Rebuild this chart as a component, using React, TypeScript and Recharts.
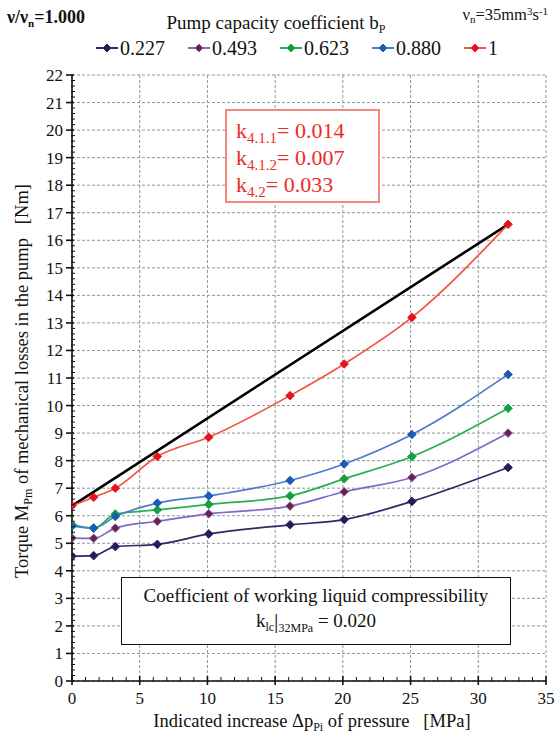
import React from 'react';
import { LineChart, Line, XAxis, YAxis, CartesianGrid, Legend } from 'recharts';

// ---- data ----
const pressure = [0, 1.6, 3.2, 6.3, 10.1, 16.1, 20.1, 25.1, 32.2];
const bp0227 = [4.53, 4.55, 4.88, 4.96, 5.34, 5.67, 5.86, 6.52, 7.75];
const bp0493 = [5.19, 5.18, 5.55, 5.8, 6.07, 6.35, 6.87, 7.39, 9.0];
const bp0623 = [5.68, 5.55, 6.06, 6.21, 6.41, 6.72, 7.34, 8.15, 9.9];
const bp0880 = [5.62, 5.55, 5.97, 6.46, 6.72, 7.28, 7.88, 8.95, 11.13];
const bp1 = [6.36, 6.67, 7.0, 8.15, 8.85, 10.36, 11.51, 13.2, 16.58];
const envelopePressure = [0, 32.2];
const envelopeTorque = [6.36, 16.58];

const seriesNames = ['0.227', '0.493', '0.623', '0.880', '1'];
const seriesKeys = ['b0227', 'b0493', 'b0623', 'b0880', 'b1'];
const seriesValues = [bp0227, bp0493, bp0623, bp0880, bp1];
const lineColors = ['#2E2868', '#8466C8', '#2DAE4E', '#4B7CC8', '#F2553F'];
const dotFills = ['#2A1A5C', '#6A2440', '#12A03E', '#1C5CB4', '#E8121C'];
const dotStrokes = ['#2A1A5C', '#7C5AC0', '#12A03E', '#1C5CB4', '#E8121C'];

const xMajor = [0, 5, 10, 15, 20, 25, 30, 35];
const yMajor = [0, 1, 2, 3, 4, 5, 6, 7, 8, 9, 10, 11, 12, 13, 14, 15, 16, 17, 18, 19, 20, 21, 22];
const xMinorStep = 1;
const yMinorStep = 0.2;
const X_MAX = 35;
const Y_MAX = 22;

const xTicks: number[] = [];
for (let i = 0; i <= X_MAX / xMinorStep; i++) xTicks.push(i * xMinorStep);
const yTicks: number[] = [];
for (let i = 0; i <= Math.round(Y_MAX / yMinorStep); i++) yTicks.push(Math.round(i * yMinorStep * 10) / 10);

const rows = pressure.map((p, i) => {
  const r: any = { p };
  seriesKeys.forEach((k, j) => {
    r[k] = seriesValues[j][i];
  });
  return r;
});
const envelopeRows = envelopePressure.map((p, i) => ({ p, m: envelopeTorque[i] }));

const FONT = '"Liberation Serif", "Times New Roman", Times, serif';

const isMajorVal = (v: number, list: number[]) => list.some((m) => Math.abs(m - v) < 1e-6);

const YTick = (props: any) => {
  const { x, y, payload } = props;
  const v = payload.value;
  const major = isMajorVal(v, yMajor);
  return (
    <g>
      <line
        x1={major ? x - 6 : x - 1}
        x2={major ? x + 2 : x + 3}
        y1={y}
        y2={y}
        stroke="#111"
        strokeWidth={major ? 1.6 : 1}
      />
      {major && (
        <text x={x - 9} y={y} dy={6} textAnchor="end" style={{ fontFamily: FONT, fontSize: 17 }} fill="#111">
          {v}
        </text>
      )}
    </g>
  );
};

const XTick = (props: any) => {
  const { x, y, payload } = props;
  const v = payload.value;
  const major = isMajorVal(v, xMajor);
  return (
    <g>
      <line x1={x} x2={x} y1={major ? y - 5 : y - 4} y2={major ? y + 4 : y} stroke="#111" strokeWidth={major ? 1.6 : 1} />
      {major && (
        <text x={x} y={y + 23} textAnchor="middle" style={{ fontFamily: FONT, fontSize: 17 }} fill="#111">
          {v}
        </text>
      )}
    </g>
  );
};

const makeDiamond = (fill: string, stroke: string) => (props: any) => {
  const { cx, cy, index } = props;
  if (cx == null || cy == null) return <g key={index} />;
  const r = 4.3;
  return (
    <polygon
      key={index}
      points={`${cx},${cy - r} ${cx + r},${cy} ${cx},${cy + r} ${cx - r},${cy}`}
      fill={fill}
      stroke={stroke}
      strokeWidth={0.9}
    />
  );
};

const Sub = ({ children, size, drop }: any) => (
  <span style={{ fontSize: size, position: 'relative', top: drop, lineHeight: 0 }}>{children}</span>
);
const Sup = ({ children, size, rise }: any) => (
  <span style={{ fontSize: size, position: 'relative', top: -rise, lineHeight: 0 }}>{children}</span>
);

const LegendContent = () => (
  <div style={{ display: 'flex', paddingLeft: 96, fontFamily: FONT, fontSize: 20, color: '#111', lineHeight: '22px' }}>
    {seriesNames.map((n, i) => (
      <div key={n} style={{ display: 'flex', alignItems: 'center', width: 94.5 }}>
        <svg width={22} height={12} style={{ marginRight: 2 }}>
          <line x1={0} x2={22} y1={6} y2={6} stroke={lineColors[i]} strokeWidth={2} />
          <polygon points="11,2 15,6 11,10 7,6" fill={dotFills[i]} stroke={dotStrokes[i]} strokeWidth={0.9} />
        </svg>
        <span>{n}</span>
      </div>
    ))}
  </div>
);

export default function App() {
  return (
    <div
      style={{
        position: 'absolute',
        left: 0,
        top: 0,
        width: 556,
        height: 737,
        background: '#fff',
        fontFamily: FONT,
        color: '#111',
        overflow: 'hidden',
      }}
    >
      <LineChart width={556} height={737} data={rows} margin={{ top: 75, right: 10, bottom: 26, left: 22 }}>
        <CartesianGrid
          horizontalValues={yMajor}
          verticalValues={xMajor}
          stroke="#8E979E"
          strokeDasharray="3 2"
          strokeWidth={1}
        />
        <XAxis
          dataKey="p"
          type="number"
          domain={[0, X_MAX]}
          ticks={xTicks}
          interval={0}
          tickSize={0}
          tickMargin={0}
          tickLine={false}
          tick={<XTick />}
          height={30}
          axisLine={{ stroke: '#111', strokeWidth: 1.6 }}
          allowDataOverflow
        />
        <YAxis
          type="number"
          domain={[0, Y_MAX]}
          ticks={yTicks}
          interval={0}
          tickSize={0}
          tickMargin={0}
          tickLine={false}
          tick={<YTick />}
          width={50}
          axisLine={{ stroke: '#111', strokeWidth: 1.6 }}
          allowDataOverflow
        />
        <Legend
          verticalAlign="middle"
          align="center"
          layout="horizontal"
          content={<LegendContent />}
          wrapperStyle={{ top: 37, left: 0, width: 556, height: 22 }}
        />
        <Line
          data={envelopeRows}
          dataKey="m"
          name="envelope"
          stroke="#000"
          strokeWidth={2.6}
          dot={false}
          isAnimationActive={false}
          legendType="none"
        />
        {seriesKeys.map((k, i) => (
          <Line
            key={k}
            dataKey={k}
            name={seriesNames[i]}
            type="monotone"
            stroke={lineColors[i]}
            strokeWidth={1.7}
            dot={makeDiamond(dotFills[i], dotStrokes[i])}
            activeDot={false}
            isAnimationActive={false}
          />
        ))}
      </LineChart>

      {/* titles */}
      <div style={{ position: 'absolute', left: 7, top: 6, fontSize: 18, fontWeight: 'bold', lineHeight: '22px' }}>
        ν/ν<Sub size={11} drop={4}>n</Sub>=1.000
      </div>
      <div style={{ position: 'absolute', left: 276 - 150, width: 300, top: 12, textAlign: 'center', fontSize: 19, lineHeight: '22px' }}>
        Pump capacity coefficient b<Sub size={12} drop={4}>P</Sub>
      </div>
      <div style={{ position: 'absolute', right: 8, top: 5, fontSize: 16.5, lineHeight: '20px' }}>
        ν<Sub size={11} drop={3}>n</Sub>=35mm<Sup size={11} rise={5}>3</Sup>s<Sup size={11} rise={5}>-1</Sup>
      </div>

      {/* k box */}
      <div
        style={{
          position: 'absolute',
          left: 225,
          top: 109,
          width: 155,
          height: 94,
          boxSizing: 'border-box',
          border: '2px solid #F28A80',
          background: '#fff',
          color: '#EE2A24',
          fontSize: 22,
          lineHeight: '27px',
          paddingLeft: 9,
          paddingTop: 6,
          whiteSpace: 'nowrap',
        }}
      >
        <div>
          k<Sub size={15} drop={5}>4.1.1</Sub>= 0.014
        </div>
        <div>
          k<Sub size={15} drop={5}>4.1.2</Sub>= 0.007
        </div>
        <div>
          k<Sub size={15} drop={5}>4.2</Sub>= 0.033
        </div>
      </div>

      {/* compressibility box */}
      <div
        style={{
          position: 'absolute',
          left: 121,
          top: 577,
          width: 390,
          height: 68,
          boxSizing: 'border-box',
          border: '1.5px solid #111',
          background: '#fff',
          fontSize: 19,
          lineHeight: '25px',
          textAlign: 'center',
          paddingTop: 5,
          whiteSpace: 'nowrap',
        }}
      >
        <div>Coefficient of working liquid compressibility</div>
        <div>
          k<Sub size={12} drop={4}>lc</Sub>
          <span style={{ fontSize: 22, lineHeight: 0, position: 'relative', top: 1 }}>|</span>
          <Sub size={12} drop={5}>32MPa</Sub> = 0.020
        </div>
      </div>

      {/* axis titles */}
      <div
        style={{
          position: 'absolute',
          left: 22 - 220,
          top: 381 - 11,
          width: 440,
          height: 22,
          lineHeight: '22px',
          textAlign: 'center',
          fontSize: 18.5,
          transform: 'rotate(-90deg)',
          whiteSpace: 'nowrap',
        }}
      >
        Torque M<Sub size={12} drop={4}>Pm</Sub> of mechanical losses in the pump&nbsp;&nbsp;&nbsp;[Nm]
      </div>
      <div
        style={{
          position: 'absolute',
          left: 312 - 220,
          width: 440,
          top: 710,
          textAlign: 'center',
          fontSize: 18.5,
          lineHeight: '22px',
          whiteSpace: 'nowrap',
        }}
      >
        Indicated increase Δp<Sub size={12} drop={4}>Pi</Sub> of pressure&nbsp;&nbsp;&nbsp;[MPa]
      </div>
    </div>
  );
}
